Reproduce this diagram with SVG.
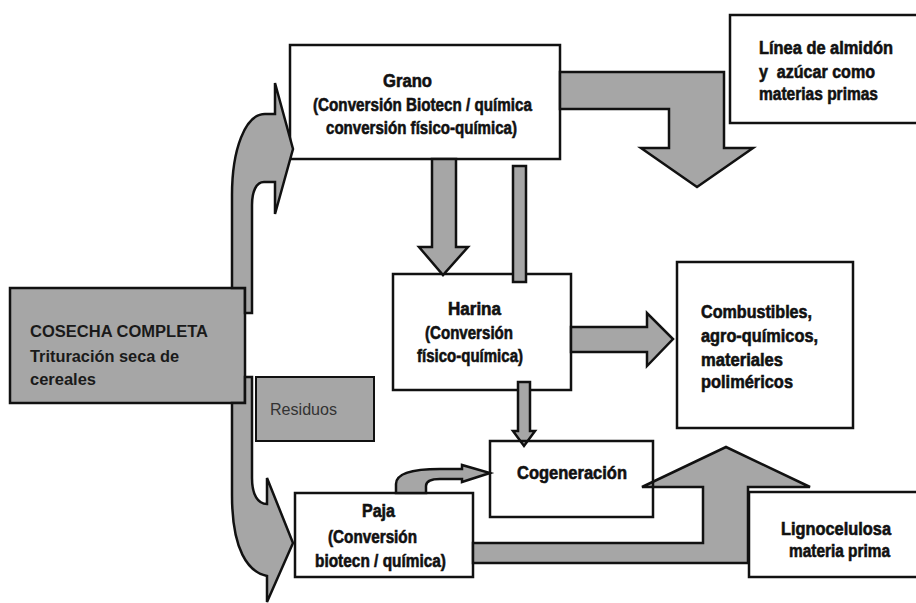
<svg xmlns="http://www.w3.org/2000/svg" width="916" height="603" viewBox="0 0 916 603">
  <style>
    .box { fill: #ffffff; stroke: #111111; stroke-width: 2.5; }
    .gbox { fill: #a6a6a6; stroke: #111111; stroke-width: 2.5; }
    .flow { fill: #a6a6a6; stroke: #111111; stroke-width: 2.5; stroke-linejoin: miter; }
    .lbl { font-family: "Liberation Sans", Arial, sans-serif; font-weight: bold; font-size: 18px; fill: #111111; stroke: #111111; stroke-width: 0.6; }
    .main { font-family: "Liberation Sans", Arial, sans-serif; font-weight: bold; font-size: 16px; fill: #1a1a1a; }
    .plain { font-family: "Liberation Sans", Arial, sans-serif; font-size: 16px; fill: #333333; }
  </style>
  <rect x="0" y="0" width="916" height="603" fill="#ffffff"/>

  <!-- Nodes -->
  <g id="cosecha">
    <rect class="gbox" x="10" y="288" width="235" height="115"/>
    <text class="main" x="30" y="337" textLength="178" lengthAdjust="spacingAndGlyphs">COSECHA COMPLETA</text>
    <text class="main" x="30" y="362" textLength="149" lengthAdjust="spacingAndGlyphs">Trituración seca de</text>
    <text class="main" x="30" y="385" textLength="66" lengthAdjust="spacingAndGlyphs">cereales</text>
  </g>

  <g id="residuos">
    <rect class="gbox" x="256" y="377" width="118" height="64" style="stroke-width:2"/>
    <text class="plain" x="270" y="415" textLength="67" lengthAdjust="spacingAndGlyphs">Residuos</text>
  </g>

  <g id="grano">
    <rect class="box" x="290" y="45" width="270" height="114"/>
    <text class="lbl" x="383" y="87" textLength="49" lengthAdjust="spacingAndGlyphs">Grano</text>
    <text class="lbl" x="313" y="111" textLength="219" lengthAdjust="spacingAndGlyphs">(Conversión Biotecn / química</text>
    <text class="lbl" x="326" y="134" textLength="191" lengthAdjust="spacingAndGlyphs">conversión físico-química)</text>
  </g>

  <g id="linea">
    <rect class="box" x="730" y="15" width="200" height="108"/>
    <text class="lbl" x="759" y="54" textLength="134" lengthAdjust="spacingAndGlyphs">Línea de almidón</text>
    <text class="lbl" x="759" y="78" textLength="116" lengthAdjust="spacingAndGlyphs">y&#160; azúcar como</text>
    <text class="lbl" x="759" y="100" textLength="119" lengthAdjust="spacingAndGlyphs">materias primas</text>
  </g>

  <g id="harina">
    <rect class="box" x="393" y="274" width="178" height="116"/>
    <text class="lbl" x="448" y="315" textLength="53" lengthAdjust="spacingAndGlyphs">Harina</text>
    <text class="lbl" x="425" y="339" textLength="88" lengthAdjust="spacingAndGlyphs">(Conversión</text>
    <text class="lbl" x="417" y="362" textLength="106" lengthAdjust="spacingAndGlyphs">físico-química)</text>
  </g>

  <g id="combustibles">
    <rect class="box" x="677" y="262" width="176" height="166"/>
    <text class="lbl" x="701" y="318" textLength="111" lengthAdjust="spacingAndGlyphs">Combustibles,</text>
    <text class="lbl" x="701" y="342" textLength="117" lengthAdjust="spacingAndGlyphs">agro-químicos,</text>
    <text class="lbl" x="701" y="366" textLength="82" lengthAdjust="spacingAndGlyphs">materiales</text>
    <text class="lbl" x="701" y="388" textLength="92" lengthAdjust="spacingAndGlyphs">poliméricos</text>
  </g>

  <g id="paja">
    <rect class="box" x="295" y="493" width="178" height="84"/>
    <text class="lbl" x="362" y="517" textLength="33" lengthAdjust="spacingAndGlyphs">Paja</text>
    <text class="lbl" x="328" y="543" textLength="89" lengthAdjust="spacingAndGlyphs">(Conversión</text>
    <text class="lbl" x="315" y="567" textLength="131" lengthAdjust="spacingAndGlyphs">biotecn / química)</text>
  </g>

  <g id="lignocelulosa">
    <rect class="box" x="749" y="492" width="190" height="85"/>
    <text class="lbl" x="781" y="535" textLength="110" lengthAdjust="spacingAndGlyphs">Lignocelulosa</text>
    <text class="lbl" x="789" y="557" textLength="101" lengthAdjust="spacingAndGlyphs">materia prima</text>
  </g>

  <!-- Connectors: block arrows -->
  <g id="connectors">
    <!-- harvest up to grain -->
    <path class="flow" d="M 232,288 L 232,195 C 232,150 245,114 265,114 L 275,114 L 275,83 L 293,149 L 275,214 L 275,182 L 264,182 C 256,182 252,192 252,205 L 252,313 L 245,313 L 245,288 Z"/>
    <!-- harvest down to straw -->
    <path class="flow" d="M 245,377 L 252,377 L 252,478 C 252,495 258,504 267,504 L 267,478 L 293,543 L 267,602 L 267,576 C 248,572 232,550 232,495 L 232,403 L 245,403 Z"/>
    <!-- grain to starch/sugar line -->
    <path class="flow" d="M 560,72 L 724,72 L 724,148 L 753,148 L 697,187 L 641,148 L 669,148 L 669,109 L 560,109 Z"/>
    <!-- grain to flour -->
    <path class="flow" d="M 432,159 L 456,159 L 456,247 L 468,247 L 443,275 L 419,247 L 432,247 Z"/>
    <!-- narrow bar from grain -->
    <rect class="flow" x="513" y="166" width="13" height="116"/>
    <!-- flour to products -->
    <path class="flow" d="M 571,327 L 647,327 L 647,313 L 673,339 L 647,366 L 647,352 L 571,352 Z"/>
    <!-- flour to cogeneration -->
    <path class="flow" d="M 518,382 L 530,382 L 530,431 L 535,431 L 524,446 L 513,431 L 518,431 Z"/>
    <!-- straw to cogeneration -->
    <path class="flow" d="M 396,493 L 396,484 C 396,472 418,469 440,469 L 462,469 L 462,465 L 490,473 L 462,482 L 462,479 L 440,479 C 430,479 426,481 426,486 L 426,493 Z"/>
    <!-- lignocellulose raw material loop -->
    <path class="flow" d="M 473,543 L 703,543 L 703,487 L 642,487 L 726,447 L 810,487 L 748,487 L 748,563 L 473,563 Z"/>
  </g>

  <g id="cogeneracion">
    <rect x="490" y="441" width="163" height="76" fill="none" stroke="#111111" stroke-width="2.5"/>
    <text class="lbl" x="517" y="479" textLength="110" lengthAdjust="spacingAndGlyphs">Cogeneración</text>
  </g>
</svg>
